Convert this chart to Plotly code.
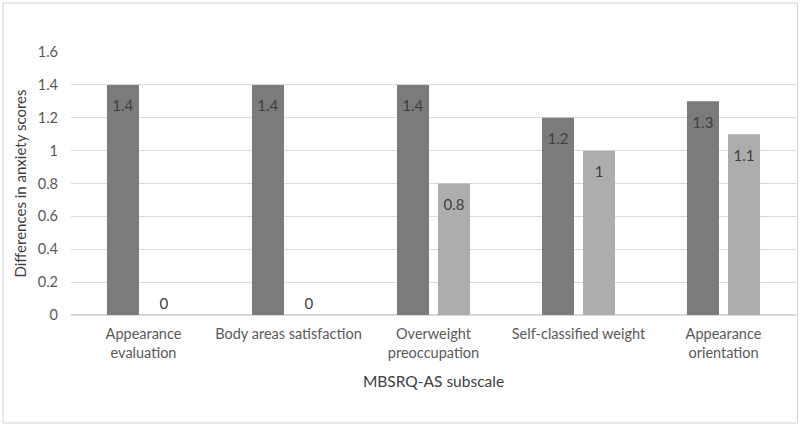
import plotly.graph_objects as go

categories = ["Appearance<br>evaluation", "Body areas satisfaction", "Overweight<br>preoccupation",
              "Self-classified weight", "Appearance<br>orientation"]
series_a = [1.4, 1.4, 1.4, 1.2, 1.3]
series_b = [0, 0, 0.8, 1.0, 1.1]

W, H = 800, 426
L, R, T, B = 71, 4, 52, 111

PAD = "<span style='font-size:4px'> </span>"

def label(v):
    s = "%g" % v
    if v == 0:
        return s
    return PAD + "<br>" + s

fig = go.Figure()
fig.add_trace(go.Bar(x=categories, y=series_a, marker=dict(color="#7b7b7b", line=dict(width=0)),
                     text=[label(v) for v in series_a], textposition="inside", insidetextanchor="end",
                     textfont=dict(color="#404040", size=15, family="Lato"), cliponaxis=False))
fig.add_trace(go.Bar(x=categories, y=series_b, marker=dict(color="#adadad", line=dict(width=0)),
                     text=[label(v) for v in series_b],
                     textposition=["outside" if v == 0 else "inside" for v in series_b],
                     insidetextanchor="end",
                     textfont=dict(color="#404040", size=15, family="Lato"), cliponaxis=False))

pw = W - L - R
ph = H - T - B
fig.add_shape(type="rect", xref="paper", yref="paper",
              x0=(3 - L) / pw, x1=(797.5 - L) / pw, y0=(H - B - 423) / ph, y1=(H - B - 3) / ph,
              line=dict(color="#d0d0d0", width=1), fillcolor="rgba(0,0,0,0)", layer="below")

fig.update_layout(
    width=W, height=H, margin=dict(l=L, r=R, t=T, b=B),
    paper_bgcolor="white", plot_bgcolor="white",
    showlegend=False, barmode="group", bargap=0.434, bargroupgap=0.22,
    font=dict(family="Lato", color="#595959", size=14.5),
    uniformtext=dict(mode=False),
)
fig.update_yaxes(range=[0, 1.6], dtick=0.2, tickformat="~g", showgrid=True, gridcolor="#d9d9d9", gridwidth=1,
                 zeroline=True, zerolinecolor="#d9d9d9", showline=False, ticks="", ticklabelstandoff=12,
                 tickfont=dict(size=14.5, color="#595959"),
                 title=dict(text="Differences in anxiety scores", font=dict(size=15, color="#404040"), standoff=7))
fig.update_xaxes(showgrid=False, showline=True, linecolor="#d9d9d9", ticks="", ticklabelstandoff=6,
                 tickfont=dict(size=14.5, color="#595959"), tickangle=0,
                 title=dict(text="MBSRQ-AS subscale", font=dict(size=15.5, color="#404040"), standoff=15))

fig.write_html("out.html", config={"displayModeBar": False},
               post_script="document.body.style.margin='0';document.body.style.overflow='hidden';")
